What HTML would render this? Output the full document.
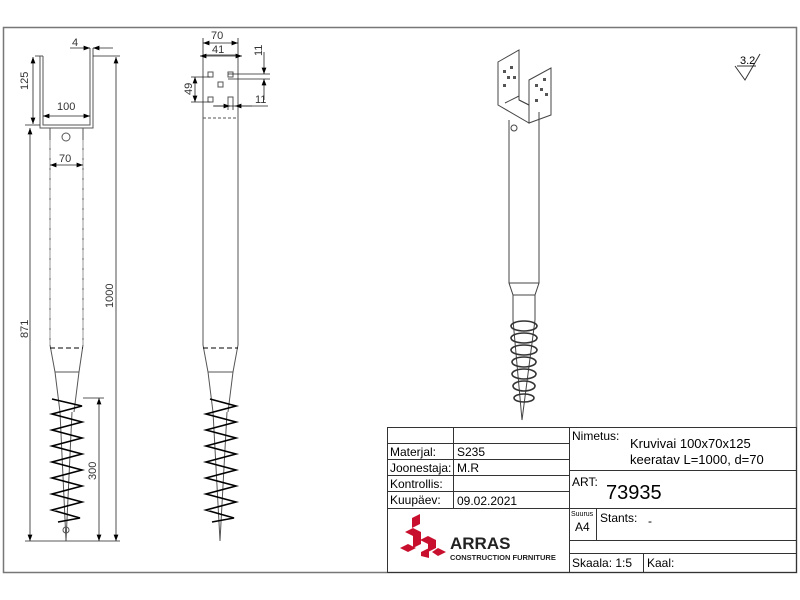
<!DOCTYPE html>
<html><head><meta charset="utf-8"><style>
body{margin:0;background:#fff}
svg{display:block;font-family:"Liberation Sans",sans-serif}
</style></head><body>
<svg width="800" height="600" viewBox="0 0 800 600" xmlns="http://www.w3.org/2000/svg">
<rect x="0" y="0" width="800" height="600" fill="#fff"/>
<rect x="3.5" y="27.5" width="793" height="545" fill="none" stroke="#777" stroke-width="1.5"/>
<defs><marker id="a" markerWidth="8" markerHeight="6" refX="8" refY="3" orient="auto-start-reverse"><path d="M0,0 L8,3 L0,6z" fill="#000"/></marker></defs>
<g stroke="#555" fill="none" stroke-width="1">
<!-- front view -->
<path d="M40,56 V128 H93 V48 M43,56 V125 H90 V48 M40,56 H43"/>
<path d="M50,128 V345 L55,372 L60,412 M83,128 V345 L79,372 L74,412"/>
<path d="M50,348 H83" stroke-dasharray="5,3" stroke="#000"/>
<path d="M55,372 H79"/>
<path d="M60,412 L66,541 L72,412"/>
<circle cx="66" cy="137" r="4"/>
<circle cx="66" cy="530" r="3"/>
<path d="M50,140 V345 M83,140 V345" stroke-dasharray="8,2" stroke="#999"/>
<g stroke="#222" stroke-width="0.8">
<path d="M25,125 H40 M35,56 H40 M93,56 H120 M25,541 H120 M83,398 H104"/>
<path d="M30,128 V541" marker-start="url(#a)" marker-end="url(#a)"/>
<path d="M33,57 V124" marker-start="url(#a)" marker-end="url(#a)"/>
<path d="M116,57 V541" marker-start="url(#a)" marker-end="url(#a)"/>
<path d="M99,398 V541" marker-start="url(#a)" marker-end="url(#a)"/>
<path d="M43,116 H90" marker-start="url(#a)" marker-end="url(#a)"/>
<path d="M50,165 H83" marker-start="url(#a)" marker-end="url(#a)"/>
<path d="M70,48 H90" marker-end="url(#a)"/>
<path d="M113,48 H93" marker-end="url(#a)"/>
</g>
<path d="M52,399 L82,406 L52,414 L82,422 L52,430 L82,438 L52,446 L82,454 L52,462 L82,470 L52,478 L82,486 L52,494 L82,502 L52,510 L80,518 L58,522" stroke="#000" stroke-width="1.6"/>
<!-- side view -->
<path d="M203,55 V345 L208,372 L213,412 M238,55 V345 L233,372 L228,412"/>
<path d="M203,55 H238"/>
<path d="M203,118 H238" stroke-dasharray="3,2"/>
<path d="M203,348 H238" stroke-dasharray="5,3" stroke="#000"/>
<path d="M208,372 H233"/>
<path d="M213,412 L220,541 L227,412"/>
<rect x="208" y="72" width="5" height="5"/><rect x="228" y="72" width="5" height="5"/>
<rect x="218" y="82" width="5" height="5"/><rect x="208" y="97" width="5" height="5"/>
<path d="M228,110 V97 H233 V110"/>
<g stroke="#222" stroke-width="0.8">
<path d="M203,38 V55 M238,38 V55"/>
<path d="M203,43 H238" marker-start="url(#a)" marker-end="url(#a)"/>
<path d="M200,56 H242" marker-start="url(#a)" marker-end="url(#a)"/>
<path d="M195,77 V102" marker-start="url(#a)" marker-end="url(#a)"/>
<path d="M191,77 H210 M191,102 H210 M228,74 H270 M228,79 H270 M213,106 H268"/>
<path d="M264,52 V74" marker-end="url(#a)"/>
<path d="M264,100 V79" marker-end="url(#a)"/>
<path d="M214,106 H230" marker-end="url(#a)"/>
<path d="M252,106 H235" marker-end="url(#a)"/>
</g>
<path d="M210,399 L236,406 L206,414 L236,422 L206,430 L236,438 L206,446 L236,454 L206,462 L236,470 L206,478 L236,486 L206,494 L236,502 L206,510 L234,518 L212,522" stroke="#000" stroke-width="1.6"/>
<!-- 3D view -->
<g stroke="#444" stroke-width="1" fill="#fff">
<path d="M498,62 L519,50 V100 L529,105 V123 L498,105 Z"/>
<path d="M529,80 L551,68 V115 L529,123 Z"/>
<path d="M519,100 L529,105 M505,103 L519,96"/>
<path d="M509,120 V283 L513,295 V320 M539,112 V283 L535,295 V320 M509,283 H539 M513,295 H535" fill="none"/>
<circle cx="514" cy="128" r="3"/>
<path d="M513,320 L522,420 L535,320" fill="none"/>
<g fill="#555" stroke="none">
<rect x="503" y="70" width="3" height="3"/><rect x="510" y="66" width="3" height="3"/><rect x="507" y="76" width="3" height="3"/><rect x="503" y="84" width="3" height="3"/><rect x="513" y="76" width="3" height="3"/>
<rect x="535" y="84" width="3" height="3"/><rect x="543" y="78" width="3" height="3"/><rect x="540" y="88" width="3" height="3"/><rect x="535" y="99" width="3" height="3"/><rect x="545" y="93" width="3" height="3"/>
</g>
</g>
<g fill="none" stroke="#333" stroke-width="1.6">
<ellipse cx="524" cy="326" rx="13" ry="5"/><ellipse cx="524" cy="338" rx="13" ry="5"/><ellipse cx="524" cy="350" rx="13" ry="5"/><ellipse cx="524" cy="362" rx="12" ry="5"/><ellipse cx="524" cy="374" rx="12" ry="5"/><ellipse cx="524" cy="386" rx="11" ry="5"/><ellipse cx="524" cy="398" rx="10" ry="4"/>
</g>
<path d="M735,66 L745,80 L760,54 M737,66 H756" stroke="#333"/>
</g>
<text x="740" y="64" font-size="11">3.2</text>
<g font-size="11" fill="#333">
<text x="72" y="46">4</text>
<text x="57" y="110">100</text>
<text x="59" y="162">70</text>
<text x="211" y="39">70</text>
<text x="212" y="53">41</text>
<text x="255" y="103">11</text>
<text transform="translate(28,90) rotate(-90)">125</text>
<text transform="translate(28,338) rotate(-90)">871</text>
<text transform="translate(113,308) rotate(-90)">1000</text>
<text transform="translate(96,480) rotate(-90)">300</text>
<text transform="translate(192,95) rotate(-90)">49</text>
<text transform="translate(262,56) rotate(-90)">11</text>
</g>
<g stroke="#333" stroke-width="1" fill="none">
<rect x="387.5" y="427.5" width="409" height="145"/>
<path d="M387,443.5 H569 M387,459.5 H569 M387,475.5 H569 M387,491.5 H569 M387,508.5 H797 M569,470.5 H797 M569,540.5 H797 M569,553.5 H797"/>
<path d="M453.5,427 V508 M569.5,427 V572 M596.5,508 V540 M643.5,553 V572"/>
</g>
<g font-size="12" fill="#000">
<text x="390" y="456">Materjal:</text><text x="457" y="456">S235</text>
<text x="390" y="472">Joonestaja:</text><text x="457" y="472">M.R</text>
<text x="390" y="488">Kontrollis:</text>
<text x="390" y="504">Kuupäev:</text><text x="457" y="505">09.02.2021</text>
<text x="572" y="440">Nimetus:</text>
<text x="630" y="448" font-size="13">Kruvivai 100x70x125</text>
<text x="630" y="464" font-size="13">keeratav L=1000, d=70</text>
<text x="572" y="486">ART:</text>
<text x="606" y="499" font-size="20">73935</text>
<text x="571" y="516" font-size="7">Suurus</text>
<text x="575" y="531">A4</text>
<text x="600" y="522">Stants:</text><text x="648" y="525">-</text>
<text x="572" y="567">Skaala: 1:5</text><text x="647" y="567">Kaal:</text>
</g>
<g fill="#c8102e">
<path d="M412,518 L420,514 L420,524 L412,528Z M405,532 L413,528 L421,532 L413,536Z M413,536 L421,532 V544 L413,548Z M400,548 L408,544 L416,548 L408,552Z M420,540 L428,536 L436,540 L428,544Z M428,544 L436,540 V548 L428,552Z M432,552 L438,548 L446,552 L438,556Z M421,552 L429,548 L429,558 L421,556Z"/>
</g>
<text x="450" y="549" font-size="17" font-weight="bold" fill="#222">ARRAS</text>
<text x="450" y="560" font-size="7.5" font-weight="bold" fill="#222">CONSTRUCTION FURNITURE</text>
</svg>
</body></html>
